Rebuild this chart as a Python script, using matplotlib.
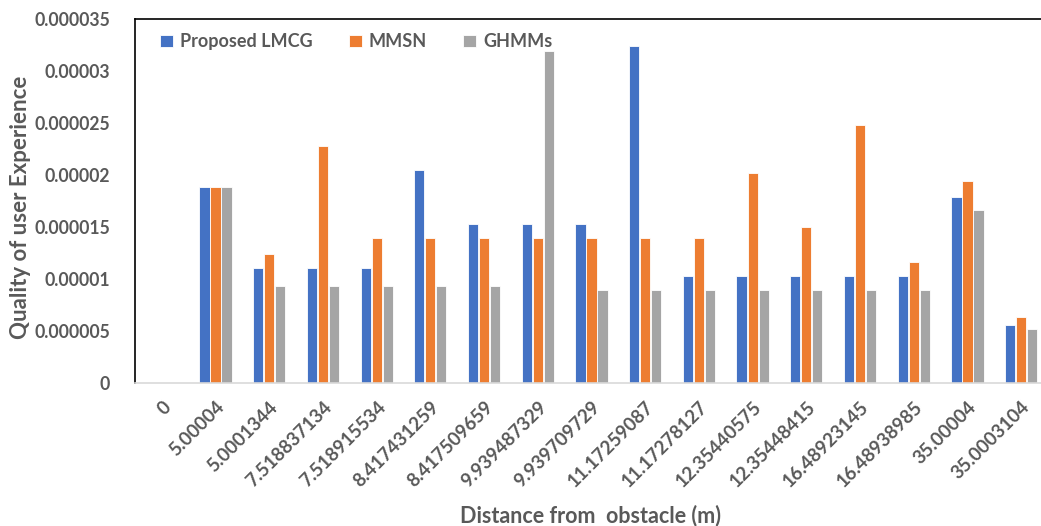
"""
    plot.py
    Grouped bars: quality of user experience vs. distance from obstacle.
"""

import matplotlib

matplotlib.use("Agg")
import matplotlib.pyplot as plt
import numpy as np

distances = [
    "0", "5.00004", "5.0001344", "7.518837134", "7.518915534",
    "8.417431259", "8.417509659", "9.939487329", "9.939709729",
    "11.17259087", "11.17278127", "12.35440575", "12.35448415",
    "16.48923145", "16.48938985", "35.00004", "35.0003104",
]

lmcg = [0, 1.88e-5, 1.11e-5, 1.11e-5, 1.11e-5, 2.05e-5, 1.53e-5, 1.53e-5,
        1.53e-5, 3.24e-5, 1.03e-5, 1.03e-5, 1.03e-5, 1.03e-5, 1.03e-5,
        1.79e-5, 5.6e-6]
mmsn = [0, 1.88e-5, 1.24e-5, 2.28e-5, 1.39e-5, 1.39e-5, 1.39e-5, 1.39e-5,
        1.39e-5, 1.39e-5, 1.39e-5, 2.02e-5, 1.50e-5, 2.48e-5, 1.16e-5,
        1.94e-5, 6.3e-6]
ghmms = [0, 1.88e-5, 9.3e-6, 9.3e-6, 9.3e-6, 9.3e-6, 9.3e-6, 3.19e-5,
         8.9e-6, 8.9e-6, 8.9e-6, 8.9e-6, 8.9e-6, 8.9e-6, 8.9e-6,
         1.66e-5, 5.2e-6]

series = [
    ("Proposed LMCG", lmcg, "#4472C4"),
    ("MMSN", mmsn, "#ED7D31"),
    ("GHMMs", ghmms, "#A5A5A5"),
]

plt.rcParams["font.family"] = ["Lato", "DejaVu Sans"]
plt.rcParams["font.weight"] = "bold"
text_color = "#595959"

fig = plt.figure(figsize=(10.41, 5.26), dpi=100)
ax = fig.add_axes([0.1297, 0.2719, 0.8703, 0.692])

x = np.arange(len(distances))
pitch = 0.205
for i, (name, vals, color) in enumerate(series):
    ax.bar(x + (i - 1) * pitch, vals, width=0.19, color=color,
           edgecolor="white", linewidth=0.6, label=name)

ax.set_xlim(-0.5, 16.37)
ax.set_ylim(0, 3.5e-5)
ax.set_yticks(np.arange(0, 3.51e-5, 5e-6))
ax.set_yticklabels(["0", "0.000005", "0.00001", "0.000015", "0.00002",
                    "0.000025", "0.00003", "0.000035"])
ax.set_xticks(x)
ax.set_xticklabels(distances, rotation=45, ha="right",
                   rotation_mode="anchor")

ax.tick_params(axis="both", length=0, colors=text_color, labelsize=12.7)
ax.tick_params(axis="x", pad=11, labelsize=13.5)
ax.tick_params(axis="y", pad=18)

for side in ["top", "left"]:
    ax.spines[side].set_color("black")
    ax.spines[side].set_linewidth(1.2)
ax.spines["right"].set_visible(False)
ax.spines["bottom"].set_color("#D9D9D9")
ax.spines["bottom"].set_linewidth(1.2)

ax.set_ylabel("Quality of user Experience", fontsize=16, color=text_color,
              fontweight="bold")
ax.yaxis.set_label_coords(-0.115, 0.483)
ax.set_xlabel("Distance from  obstacle (m)", fontsize=15.5,
              color=text_color, fontweight="bold")
ax.xaxis.set_label_coords(0.503, -0.335)

leg = ax.legend(loc="upper left", bbox_to_anchor=(0.01, 1.005), ncol=3,
                frameon=False, fontsize=13, handlelength=0.7,
                handleheight=0.7, handletextpad=0.4, columnspacing=2.0)
for t in leg.get_texts():
    t.set_color(text_color)

plt.savefig("out.png", dpi=100)
